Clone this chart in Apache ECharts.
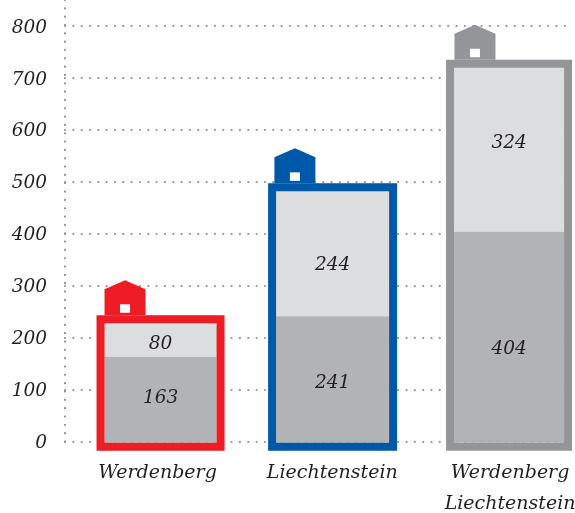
<!DOCTYPE html>
<html>
<head>
<meta charset="utf-8">
<style>html,body{margin:0;padding:0;background:#fff}#c{width:575px;height:513px}</style>
<script src="https://cdn.jsdelivr.net/npm/echarts@6/dist/echarts.min.js"></script>
</head>
<body>
<div id="c"></div>
<script>
const categories = ['Werdenberg', 'Liechtenstein', 'Werdenberg\nLiechtenstein'];
const lowerValues = [163, 241, 404];
const upperValues = [80, 244, 324];
const frameTops = [243, 497, 735];
const lowerLabelAt = [86, 116, 182];
const upperLabelAt = [191, 342, 578];
const yTicks = { min: 0, max: 850, interval: 100 };

const frameColors = ['#ee1c25', '#0058a9', '#939598'];
const lightFill = '#dcddde', darkFill = '#b1b3b6', ink = '#231f20';
const fontFamily = '"DejaVu Serif", serif';
const frameWidths = [128, 129, 126];
const centerNudge = [0, -2.2, 0];
const houseInset = [8, 6.3, 8.4];
const labelPadding = [[0, 6, 0, 0], [0, 5, 0, 0], [0, 0, 0, 2]];
const border = 8, drop = 9.2;

const dotted = { color: '#8e9093', width: 2.2, type: [0.01, 8.32], cap: 'round' };

function renderItem(params, api) {
  const i = params.dataIndex;
  const cat = api.value(0);
  const base = api.coord([cat, 0]);
  const cx = base[0] + centerNudge[i];
  const y0 = base[1];
  const w = frameWidths[i];
  const left = cx - w / 2;
  const top = api.coord([cat, frameTops[i]])[1];
  const split = api.coord([cat, api.value(1)])[1];
  const bottom = y0 + drop;
  const col = frameColors[i];
  const innerBottom = bottom - border;
  const innerLeft = left + border, innerW = w - 2 * border;
  const hl = left + houseInset[i], hw = 41;
  const text = (t, at) => ({
    type: 'text',
    style: {
      x: cx, y: api.coord([cat, at])[1] + 1.8, text: t, fill: ink,
      font: 'italic 18.5px ' + fontFamily, align: 'center', verticalAlign: 'middle'
    }
  });
  return {
    type: 'group',
    children: [
      { type: 'rect', shape: { x: innerLeft, y: top, width: innerW, height: split - top }, style: { fill: lightFill } },
      { type: 'rect', shape: { x: innerLeft, y: split, width: innerW, height: innerBottom - split }, style: { fill: darkFill } },
      { type: 'rect', shape: { x: left + border / 2, y: top + border / 2, width: w - border, height: bottom - top - border },
        style: { fill: 'none', stroke: col, lineWidth: border } },
      { type: 'polygon', shape: { points: [[hl, top], [hl, top - 26], [hl + hw / 2, top - 35], [hl + hw, top - 26], [hl + hw, top]] },
        style: { fill: col } },
      { type: 'rect', shape: { x: hl + 15.5, y: top - 11, width: 10, height: 8.5 }, style: { fill: '#fff' } },
      text(String(api.value(1)), lowerLabelAt[i]),
      text(String(api.value(2)), upperLabelAt[i])
    ]
  };
}

const chart = echarts.init(document.getElementById('c'), null, { renderer: 'canvas' });
chart.setOption({
  animation: false,
  backgroundColor: '#fff',
  grid: [
    { left: 65, right: 8, top: 0, bottom: 71.5, outerBoundsMode: 'none' },
    { left: 73.4, right: -21.2, top: 0, bottom: 71.5, outerBoundsMode: 'none' }
  ],
  xAxis: [
    { type: 'category', gridIndex: 0, data: categories, show: false },
    {
      type: 'category', gridIndex: 1,
      data: categories.map((c, i) => ({ value: c, textStyle: { padding: labelPadding[i] } })),
      axisLine: { show: false }, axisTick: { show: false }, splitLine: { show: false },
      axisLabel: {
        interval: 0, margin: 16, color: ink, fontFamily, fontStyle: 'italic',
        fontSize: 19, lineHeight: 31, verticalAlign: 'top'
      }
    }
  ],
  yAxis: [
    {
      type: 'value', gridIndex: 0, min: yTicks.min, max: yTicks.max, interval: yTicks.interval,
      axisLine: { show: true, lineStyle: dotted },
      axisTick: { show: false },
      splitLine: { show: true, showMaxLine: false, lineStyle: dotted },
      axisLabel: {
        showMaxLabel: false, margin: 18, color: ink, fontFamily,
        fontStyle: 'italic', fontSize: 18.5, verticalAlign: 'top', lineHeight: 3.6
      }
    },
    { type: 'value', gridIndex: 1, min: yTicks.min, max: yTicks.max, interval: yTicks.interval, show: false }
  ],
  series: [{
    type: 'custom',
    xAxisIndex: 1,
    yAxisIndex: 1,
    clip: false,
    silent: true,
    renderItem,
    encode: { x: 0, y: 1 },
    data: categories.map((c, i) => [i, lowerValues[i], upperValues[i]])
  }]
});
</script>
</body>
</html>
